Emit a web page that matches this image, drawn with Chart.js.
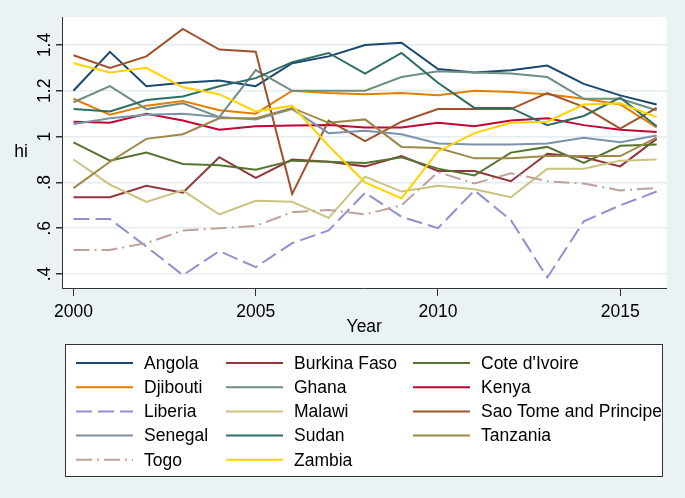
<!DOCTYPE html>
<html>
<head>
<meta charset="utf-8">
<title>hi by year</title>
<script src="https://cdn.jsdelivr.net/npm/chart.js@4.4.0/dist/chart.umd.min.js"></script>
<style>
  html, body { margin: 0; padding: 0; background: #eaf2f3; }
  #wrap { width: 685px; height: 498px; }
</style>
</head>
<body>
<div id="wrap"><canvas id="hiChart" width="685" height="498"></canvas></div>
<script>
// data
const years = [2000, 2001, 2002, 2003, 2004, 2005, 2006, 2007, 2008, 2009, 2010, 2011, 2012, 2013, 2014, 2015, 2016];
const xTicks = [2000, 2005, 2010, 2015];
const yTicks = [0.4, 0.6, 0.8, 1, 1.2, 1.4];

const countries = ['Angola', 'Burkina Faso', "Cote d'Ivoire", 'Djibouti', 'Ghana', 'Kenya', 'Liberia',
    'Malawi', 'Sao Tome and Principe', 'Senegal', 'Sudan', 'Tanzania', 'Togo', 'Zambia'];

const angola   = [1.20, 1.37, 1.22, 1.235, 1.245, 1.22, 1.32, 1.35, 1.40, 1.41, 1.295, 1.28, 1.29, 1.31, 1.23, 1.18, 1.14];
const burkina  = [0.735, 0.735, 0.785, 0.755, 0.91, 0.82, 0.90, 0.89, 0.87, 0.915, 0.85, 0.85, 0.805, 0.925, 0.91, 0.87, 0.99];
const cote     = [0.975, 0.895, 0.93, 0.88, 0.875, 0.855, 0.895, 0.89, 0.885, 0.91, 0.86, 0.83, 0.93, 0.955, 0.885, 0.96, 0.965];
const djibouti = [1.165, 1.095, 1.135, 1.155, 1.115, 1.10, 1.20, 1.19, 1.185, 1.19, 1.18, 1.20, 1.195, 1.185, 1.165, 1.14, 1.04];
const ghana    = [1.15, 1.22, 1.12, 1.145, 1.085, 1.29, 1.20, 1.20, 1.20, 1.26, 1.285, 1.28, 1.275, 1.26, 1.165, 1.165, 1.115];
const kenya    = [1.065, 1.06, 1.10, 1.07, 1.03, 1.045, 1.048, 1.05, 1.04, 1.04, 1.06, 1.045, 1.07, 1.08, 1.05, 1.03, 1.02];
const liberia  = [0.64, 0.64, 0.52, 0.395, 0.50, 0.43, 0.535, 0.59, 0.755, 0.65, 0.60, 0.765, 0.635, 0.385, 0.63, 0.70, 0.76];
const malawi   = [0.90, 0.79, 0.715, 0.765, 0.66, 0.72, 0.715, 0.645, 0.825, 0.76, 0.785, 0.77, 0.735, 0.86, 0.86, 0.895, 0.90];
const saoTome  = [1.355, 1.30, 1.35, 1.47, 1.38, 1.37, 0.75, 1.07, 0.98, 1.065, 1.12, 1.12, 1.12, 1.19, 1.13, 1.035, 1.125];
const senegal  = [1.055, 1.08, 1.095, 1.10, 1.085, 1.075, 1.12, 1.015, 1.025, 1.01, 0.97, 0.965, 0.965, 0.97, 0.995, 0.975, 1.005];
const sudan    = [1.12, 1.11, 1.16, 1.175, 1.22, 1.255, 1.325, 1.365, 1.275, 1.365, 1.235, 1.125, 1.125, 1.05, 1.09, 1.17, 1.045];
const tanzania = [0.775, 0.89, 0.99, 1.01, 1.08, 1.08, 1.125, 1.06, 1.075, 0.955, 0.95, 0.905, 0.905, 0.915, 0.915, 0.915, 0.995];
const togo     = [0.505, 0.505, 0.535, 0.59, 0.60, 0.61, 0.67, 0.68, 0.66, 0.70, 0.845, 0.795, 0.84, 0.805, 0.795, 0.765, 0.775];
const zambia   = [1.32, 1.28, 1.30, 1.215, 1.185, 1.11, 1.135, 0.96, 0.80, 0.73, 0.935, 1.015, 1.06, 1.065, 1.14, 1.145, 1.085];

const series = [angola, burkina, cote, djibouti, ghana, kenya, liberia, malawi, saoTome, senegal, sudan, tanzania, togo, zambia];

// stata s2color style
const colors = ['#1a476f', '#90353b', '#55752f', '#e37e00', '#6e8e84', '#c10534', '#938dd2',
    '#cac27e', '#a0522d', '#7b92a8', '#2d6d66', '#9c8847', '#bfa19c', '#ffd200'];
const dashes = { 'Liberia': [16, 6], 'Togo': [16, 5, 2, 5] };

const FONT = 'Liberation Sans, Arial, Helvetica, sans-serif';
const BG = '#eaf2f3';

const datasets = countries.map(function (name, i) {
    return {
        label: name,
        data: years.map(function (yr, j) { return { x: yr, y: series[i][j] }; }),
        borderColor: colors[i],
        backgroundColor: colors[i],
        borderWidth: 2,
        borderDash: dashes[name] || [],
        pointRadius: 0,
        tension: 0,
        fill: false,
        order: countries.length - i
    };
});

function fmtTick(v) {
    if (v === 1) return '1';
    return v < 1 ? String(v).replace(/^0/, '') : String(v);
}

// backgrounds: grey-blue outside, white plot region
const bgPlugin = {
    id: 'bgPlugin',
    beforeDraw: function (chart) {
        const c = chart.ctx, a = chart.chartArea;
        c.save();
        c.fillStyle = BG;
        c.fillRect(0, 0, chart.width, chart.height);
        c.fillStyle = '#ffffff';
        c.fillRect(a.left, a.top, a.right - a.left, a.bottom - a.top);
        c.restore();
    },
    afterDraw: function (chart) {
        // horizontal y-axis title
        const c = chart.ctx, a = chart.chartArea;
        c.save();
        c.fillStyle = '#000';
        c.font = '17.5px ' + FONT;
        c.textAlign = 'center';
        c.textBaseline = 'middle';
        c.fillText('hi', 21, (a.top + a.bottom) / 2);
        c.restore();
    }
};

// three-column legend in a box below the axis
const legendPlugin = {
    id: 'boxLegend',
    afterDraw: function (chart) {
        const c = chart.ctx;
        const box = { left: 65, top: 344, right: 662, bottom: 476 };
        const colLine = [76, 226, 413];
        const lineLen = 57;
        const rowY0 = 363, rowStep = 24.2;
        c.save();
        c.fillStyle = '#ffffff';
        c.fillRect(box.left, box.top, box.right - box.left, box.bottom - box.top);
        c.strokeStyle = '#333333';
        c.lineWidth = 1;
        c.strokeRect(box.left + 0.5, box.top + 0.5, box.right - box.left, box.bottom - box.top);
        c.font = '17.5px ' + FONT;
        c.textBaseline = 'middle';
        chart.data.datasets.forEach(function (ds, i) {
            const col = i % 3, row = Math.floor(i / 3);
            const x = colLine[col], y = rowY0 + row * rowStep;
            c.strokeStyle = ds.borderColor;
            c.lineWidth = ds.borderWidth;
            c.setLineDash(ds.borderDash);
            c.beginPath();
            c.moveTo(x, y);
            c.lineTo(x + lineLen, y);
            c.stroke();
            c.setLineDash([]);
            c.fillStyle = '#000';
            c.fillText(ds.label, x + lineLen + 11, y + 1);
        });
        c.restore();
    }
};

const ctx = document.getElementById('hiChart').getContext('2d');
const hiChart = new Chart(ctx, {
    type: 'line',
    data: { datasets: datasets },
    plugins: [bgPlugin, legendPlugin],
    options: {
        responsive: false,
        animation: false,
        devicePixelRatio: 1,
        layout: { padding: { left: 0, top: 17, right: 18.5, bottom: 160 } },
        plugins: { legend: { display: false }, tooltip: { enabled: false } },
        scales: {
            x: {
                type: 'linear',
                min: 1999.685,
                max: 2016.27,
                afterBuildTicks: function (scale) {
                    scale.ticks = xTicks.map(function (v) { return { value: v }; });
                },
                afterFit: function (scale) { scale.height = 50; },
                grid: { drawOnChartArea: false, drawTicks: true, tickLength: 8, color: '#333', lineWidth: 1 },
                border: { display: true, color: '#333', width: 1 },
                ticks: {
                    color: '#000', font: { family: FONT, size: 17.5 }, padding: 6,
                    maxRotation: 0, minRotation: 0,
                    callback: function (v) { return String(v); }
                },
                title: { display: true, text: 'Year', color: '#000', font: { family: FONT, size: 17.5 }, padding: { top: 0, bottom: 0 } }
            },
            y: {
                min: 0.339,
                max: 1.522,
                afterBuildTicks: function (scale) {
                    scale.ticks = yTicks.map(function (v) { return { value: v }; });
                },
                afterFit: function (scale) { scale.width = 62; },
                grid: { color: '#e3ecee', lineWidth: 1.5, tickColor: '#333', tickLength: 6, drawTicks: true },
                border: { display: true, color: '#333', width: 1 },
                ticks: {
                    color: '#000', font: { family: FONT, size: 17.5 },
                    minRotation: 90, maxRotation: 90, crossAlign: 'center', padding: -1,
                    callback: function (v) { return fmtTick(v); }
                }
            }
        }
    }
});
</script>
</body>
</html>
